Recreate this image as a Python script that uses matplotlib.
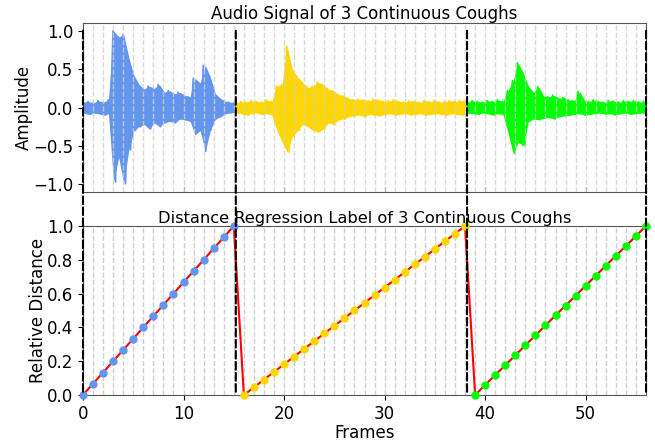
import numpy as np
import matplotlib.pyplot as plt
from matplotlib.patches import ConnectionPatch

# cough boundaries in frame units (black dashed lines)
boundaries = [0, 15.2, 38.2, 56]
seg_colors = ['#6495ED', '#FFD700', '#00FF00']

# audio envelope: alternating peak / trough per half frame
blue_hi = [0.07, 0.08, 0.06, 0.09, 0.07, 0.10, 1.00, 0.92, 0.95, 0.65, 0.42, 0.30,
           0.24, 0.28, 0.25, 0.30, 0.20, 0.22, 0.18, 0.20, 0.16, 0.14, 0.38, 0.32,
           0.55, 0.40, 0.18, 0.12, 0.08, 0.07, 0.06]
blue_lo = [-0.07, -0.09, -0.07, -0.08, -0.10, -0.08, -0.97, -0.65, -0.99, -0.55, -0.30,
           -0.25, -0.22, -0.28, -0.20, -0.25, -0.20, -0.18, -0.20, -0.15, -0.16, -0.18,
           -0.35, -0.30, -0.57, -0.30, -0.15, -0.12, -0.08, -0.07, -0.06]
yellow_hi = [0.06, 0.08, 0.07, 0.09, 0.08, 0.07, 0.10, 0.08, 0.28, 0.30, 0.80, 0.50,
             0.40, 0.33, 0.26, 0.28, 0.33, 0.30, 0.24, 0.22, 0.17, 0.15, 0.12, 0.10,
             0.11, 0.10, 0.09, 0.11, 0.10, 0.08, 0.09, 0.10, 0.08, 0.07, 0.09, 0.08,
             0.07, 0.09, 0.08, 0.09, 0.07, 0.08, 0.09, 0.08, 0.09, 0.08]
yellow_lo = [-0.07, -0.08, -0.10, -0.08, -0.07, -0.09, -0.08, -0.10, -0.30, -0.45,
             -0.58, -0.38, -0.30, -0.22, -0.25, -0.30, -0.32, -0.28, -0.20, -0.22,
             -0.16, -0.15, -0.12, -0.11, -0.10, -0.12, -0.09, -0.10, -0.11, -0.09,
             -0.08, -0.10, -0.09, -0.08, -0.10, -0.09, -0.08, -0.10, -0.09, -0.08,
             -0.09, -0.10, -0.08, -0.09, -0.10, -0.08]
green_hi = [0.07, 0.09, 0.08, 0.07, 0.09, 0.08, 0.10, 0.08, 0.22, 0.35, 0.58, 0.45,
            0.28, 0.20, 0.27, 0.15, 0.14, 0.16, 0.12, 0.13, 0.10, 0.09, 0.21, 0.09,
            0.08, 0.10, 0.08, 0.07, 0.09, 0.08, 0.07, 0.09, 0.08, 0.09, 0.07, 0.08]
green_lo = [-0.07, -0.08, -0.09, -0.07, -0.08, -0.10, -0.08, -0.09, -0.32, -0.60,
            -0.45, -0.50, -0.18, -0.15, -0.16, -0.14, -0.13, -0.15, -0.12, -0.11,
            -0.10, -0.09, -0.08, -0.10, -0.09, -0.08, -0.07, -0.09, -0.08, -0.10,
            -0.08, -0.07, -0.09, -0.08, -0.07, -0.08]

# distance regression labels per frame
frames1 = list(range(0, 16))
frames2 = list(range(16, 39))
frames3 = list(range(39, 57))
dist1 = [0, .067, .133, .2, .267, .333, .4, .467, .533, .6, .667, .733, .8, .867, .933, 1.0]
dist2 = [0, .045, .091, .136, .182, .227, .273, .318, .364, .409, .455, .5, .545, .591,
         .636, .682, .727, .773, .818, .864, .909, .955, 1.0]
dist3 = [0, .059, .118, .176, .235, .294, .353, .412, .471, .529, .588, .647, .706,
         .765, .824, .882, .941, 1.0]

plt.rcParams['font.size'] = 12

fig = plt.figure(figsize=(6.55, 4.43), dpi=100)
ax1 = fig.add_axes([0.1267, 0.5666, 0.8596, 0.3814])
ax2 = fig.add_axes([0.1267, 0.1084, 0.8596, 0.3814])

# top: audio waveform (filled envelope + spiky trace)
envs = [(blue_hi, blue_lo), (yellow_hi, yellow_lo), (green_hi, green_lo)]
for k, (hi, lo) in enumerate(envs):
    xc = np.linspace(boundaries[k], boundaries[k + 1], len(hi))
    ax1.fill_between(xc, lo, hi, color=seg_colors[k], lw=0, zorder=2)
    y = np.empty(2 * len(hi))
    y[0::2] = hi
    y[1::2] = lo
    x = np.linspace(boundaries[k], boundaries[k + 1], len(y))
    ax1.plot(x, y, color=seg_colors[k], lw=1.2, zorder=2)

for f in range(1, 56):
    ax1.axvline(f, color='#cfcfcf', ls='--', lw=1, alpha=0.8, zorder=3)
    ax2.axvline(f, color='#cfcfcf', ls='--', lw=1, zorder=1)

ax1.set_xlim(0, 56)
ax1.set_ylim(-1.1, 1.1)
ax1.set_yticks([-1.0, -0.5, 0.0, 0.5, 1.0])
ax1.set_xticks([0, 10, 20, 30, 40, 50])
ax1.tick_params(axis='x', direction='in', labelbottom=False, color='#555555')
ax1.set_ylabel('Amplitude', labelpad=0)
ax1.set_title('Audio Signal of 3 Continuous Coughs', fontsize=12, pad=3)

# bottom: distance labels
all_frames = frames1 + frames2 + frames3
all_dist = dist1 + dist2 + dist3
ax2.plot(all_frames, all_dist, color='red', lw=1.5, zorder=2)
for fr, d, c in zip([frames1, frames2, frames3], [dist1, dist2, dist3], seg_colors):
    ax2.plot(fr, d, 'o', color=c, ms=5, zorder=3, clip_on=False)

ax2.set_xlim(0, 56)
ax2.set_ylim(0, 1)
ax2.set_xlabel('Frames', labelpad=1)
ax2.set_ylabel('Relative Distance', labelpad=0)
ax2.set_title('Distance Regression Label of 3 Continuous Coughs', fontsize=11.7, pad=2)

for ax in (ax1, ax2):
    for sp in ax.spines.values():
        sp.set_color('#555555')

# dashed boundary lines spanning both panels
for b in boundaries:
    con = ConnectionPatch(xyA=(b, 1.0), coordsA=ax1.transData,
                          xyB=(b, 0.0), coordsB=ax2.transData,
                          color='black', ls='--', lw=1.5, zorder=5)
    fig.add_artist(con)

fig.savefig('out.png', dpi=100)
